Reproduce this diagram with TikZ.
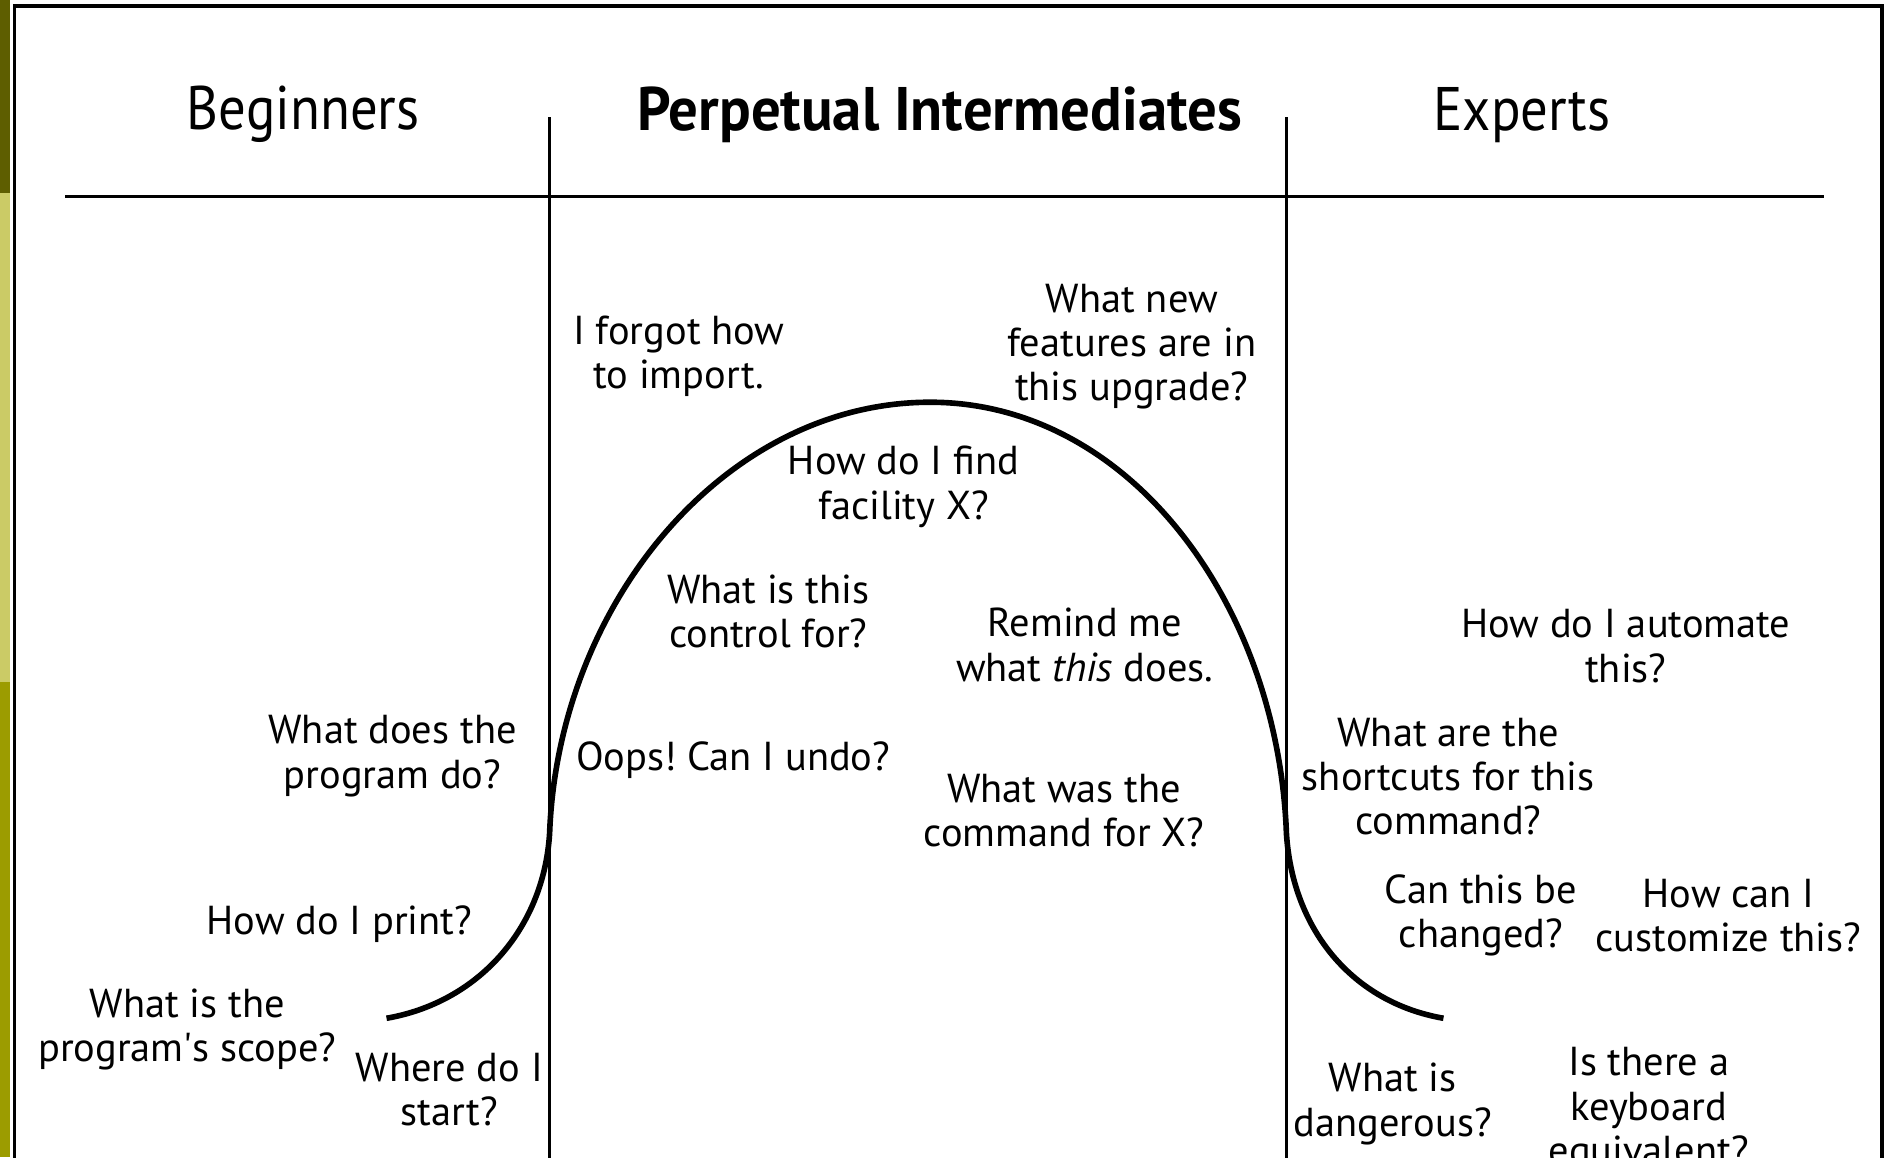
\documentclass[tikz,border=0pt]{standalone}
\usepackage{fontspec}
\setmainfont{PT Sans}
\newfontfamily\cabecera{PT Sans}[FakeStretch=0.89]
\newfontfamily\cabecerab{PT Sans}[FakeStretch=0.955]
\usepackage{tikz}
\frenchspacing
\definecolor{oscuro}{HTML}{5E5E00}
\definecolor{claro}{HTML}{CBCB66}
\definecolor{oliva}{HTML}{9C9C00}
\newcommand{\recto}{{\addfontfeature{Ligatures=TeXOff}'}}
\tikzstyle{texto}=[inner sep=0pt,align=center,font=\fontsize{11.5}{12.6}\selectfont]
\tikzstyle{titulo}=[inner sep=0pt,font=\fontsize{17.5}{20}\selectfont\cabecera]

\begin{document}
\begin{tikzpicture}[x=0.1208mm,y=-0.1208mm]
    \useasboundingbox (0,0) rectangle (1568,958);
    \fill [white] (0,0) rectangle (1568,958);
    % franja de color
    \fill [oscuro] (0,0) rectangle (8,160);
    \fill [claro] (0,160) rectangle (8,565);
    \fill [oliva] (0,565) rectangle (8,958);
    % marco
    \draw [line width=1pt] (12,970) -- (12,5) -- (1558,5) -- (1558,970);
    % lineas
    \coordinate (r1) at (54,163);
    \coordinate (r2) at (1510,163);
    \coordinate (v1a) at (455,97);
    \coordinate (v1b) at (455,970);
    \coordinate (v2a) at (1065,97);
    \coordinate (v2b) at (1065,970);
    \draw [line width=0.9pt] (r1) -- (r2);
    \draw [line width=0.7pt] (v1a) -- (v1b);
    \draw [line width=0.7pt] (v2a) -- (v2b);
    % curva
    \draw [line width=1.6pt] (320,843) .. controls (395,830) and (450,770) .. (455,690)
        .. controls (462,500) and (600,333) .. (770,333)
        .. controls (935,333) and (1058,500) .. (1065,690)
        .. controls (1070,770) and (1120,830) .. (1195,843);
    % titulos
    \node [titulo] (beg) at (251,95) {Beginners};
    \node [titulo,font=\fontsize{17.5}{20}\selectfont\cabecerab\bfseries] (per) at (778,95) {Perpetual Intermediates};
    \node [titulo] (exp) at (1260,95) {Experts};
    % preguntas
    \node [texto] (q1) at (562,295) {I forgot how\\to import.};
    \node [texto] (q2) at (937,287) {What new\\features are in\\this upgrade?};
    \node [texto] (q3) at (748,403) {How do I find\\facility X?};
    \node [texto] (q4) at (636,506) {What is this\\control for?};
    \node [texto] (q5) at (898,534) {Remind me\\what \textit{this} does.};
    \node [texto] (q6) at (607,629) {Oops! Can I undo?};
    \node [texto] (q7) at (881,671) {What was the\\command for X?};
    \node [texto] (q8) at (325,626) {What does the\\program do?};
    \node [texto] (q9) at (281,765) {How do I print?};
    \node [texto] (q10) at (155,852) {What is the\\program\recto s scope?};
    \node [texto] (q11) at (372,902) {Where do I\\start?};
    \node [texto] (q12) at (1346,535) {How do I automate\\this?};
    \node [texto] (q13) at (1199,643) {What are the\\shortcuts for this\\command?};
    \node [texto] (q14) at (1226,758) {Can this be\\changed?};
    \node [texto] (q15) at (1431,758) {How can I\\customize this?};
    \node [texto] (q16) at (1153,914) {What is\\dangerous?};
    \node [texto] (q17) at (1365,919) {Is there a\\keyboard\\equivalent?};
\end{tikzpicture}
\end{document}
